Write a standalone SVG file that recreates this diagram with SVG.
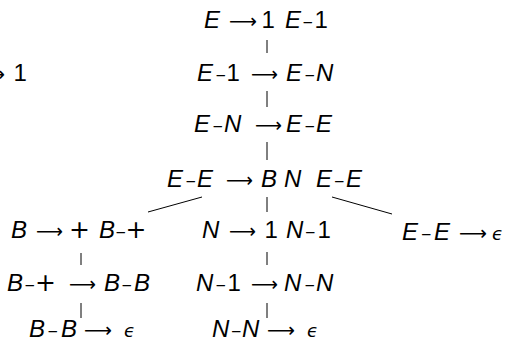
<svg xmlns="http://www.w3.org/2000/svg" width="508" height="348" viewBox="0 0 508 348">
  <style>
    text { font-family: "Liberation Sans", "DejaVu Sans", sans-serif; font-size: 24px; fill: #000; }
    .v { font-style: italic; }
    .op { font-family: "DejaVu Sans", sans-serif; font-size: 20px; }
    .d { font-family: "DejaVu Sans", sans-serif; font-size: 20px; }
    .p { font-family: "DejaVu Sans", sans-serif; font-size: 25px; }
    .eps { font-family: "DejaVu Sans", sans-serif; font-style: italic; font-size: 18px; }
    .edge { stroke: #000; stroke-width: 1; fill: none; }
  </style>
  <rect width="508" height="348" fill="#fff"/>

  <g id="connectors">
    <line class="edge" x1="267" y1="40" x2="267" y2="53"/>
    <line class="edge" x1="267" y1="91" x2="267" y2="107"/>
    <line class="edge" x1="267" y1="142" x2="267" y2="160"/>
    <line class="edge" x1="267" y1="197" x2="267" y2="212"/>
    <line class="edge" x1="202" y1="197" x2="148" y2="212"/>
    <line class="edge" x1="332" y1="197" x2="392" y2="214"/>
    <line class="edge" x1="81" y1="253" x2="81" y2="265"/>
    <line class="edge" x1="81" y1="303" x2="81" y2="318"/>
    <line class="edge" x1="267" y1="252" x2="267" y2="265"/>
    <line class="edge" x1="267" y1="303" x2="267" y2="318"/>
  </g>

  <g id="n-side">
    <text y="81"><tspan class="op" x="-22" textLength="27" lengthAdjust="spacingAndGlyphs">⟶</tspan><tspan x="13.5">1</tspan></text>
  </g>
  <g id="n-e">
    <text y="28"><tspan class="v" x="204">E</tspan><tspan class="op" x="229" textLength="28" lengthAdjust="spacingAndGlyphs">⟶</tspan><tspan x="261.5">1</tspan><tspan class="v" x="285">E</tspan><tspan class="d" x="302.5" textLength="10.5" lengthAdjust="spacingAndGlyphs">–</tspan><tspan x="314.5">1</tspan></text>
  </g>
  <g id="n-e1">
    <text y="81"><tspan class="v" x="197">E</tspan><tspan class="d" x="215.5" textLength="10.5" lengthAdjust="spacingAndGlyphs">–</tspan><tspan x="226.5">1</tspan><tspan class="op" x="251" textLength="27" lengthAdjust="spacingAndGlyphs">⟶</tspan><tspan class="v" x="286">E</tspan><tspan class="d" x="304.5" textLength="10.5" lengthAdjust="spacingAndGlyphs">–</tspan><tspan class="v" x="316">N</tspan></text>
  </g>
  <g id="n-en">
    <text y="132"><tspan class="v" x="194">E</tspan><tspan class="d" x="212.5" textLength="10.5" lengthAdjust="spacingAndGlyphs">–</tspan><tspan class="v" x="224">N</tspan><tspan class="op" x="255" textLength="27" lengthAdjust="spacingAndGlyphs">⟶</tspan><tspan class="v" x="286">E</tspan><tspan class="d" x="304.5" textLength="10.5" lengthAdjust="spacingAndGlyphs">–</tspan><tspan class="v" x="316">E</tspan></text>
  </g>
  <g id="n-ee">
    <text y="187"><tspan class="v" x="167">E</tspan><tspan class="d" x="185.5" textLength="10.5" lengthAdjust="spacingAndGlyphs">–</tspan><tspan class="v" x="197">E</tspan><tspan class="op" x="226" textLength="27" lengthAdjust="spacingAndGlyphs">⟶</tspan><tspan class="v" x="261">B</tspan><tspan class="v" x="284">N</tspan><tspan class="v" x="316">E</tspan><tspan class="d" x="334" textLength="10.5" lengthAdjust="spacingAndGlyphs">–</tspan><tspan class="v" x="346">E</tspan></text>
  </g>
  <g id="n-b">
    <text y="238"><tspan class="v" x="11">B</tspan><tspan class="op" x="36" textLength="27" lengthAdjust="spacingAndGlyphs">⟶</tspan><tspan class="p" x="69">+</tspan><tspan class="v" x="99">B</tspan><tspan class="d" x="115.5" textLength="10.5" lengthAdjust="spacingAndGlyphs">–</tspan><tspan class="p" x="125.5">+</tspan></text>
  </g>
  <g id="n-bplus">
    <text y="291"><tspan class="v" x="7">B</tspan><tspan class="d" x="24.5" textLength="10.5" lengthAdjust="spacingAndGlyphs">–</tspan><tspan class="p" x="35">+</tspan><tspan class="op" x="69" textLength="27" lengthAdjust="spacingAndGlyphs">⟶</tspan><tspan class="v" x="104">B</tspan><tspan class="d" x="121.5" textLength="10.5" lengthAdjust="spacingAndGlyphs">–</tspan><tspan class="v" x="134">B</tspan></text>
  </g>
  <g id="n-bb">
    <text y="337"><tspan class="v" x="29">B</tspan><tspan class="d" x="47.5" textLength="10.5" lengthAdjust="spacingAndGlyphs">–</tspan><tspan class="v" x="61">B</tspan><tspan class="op" x="84" textLength="28" lengthAdjust="spacingAndGlyphs">⟶</tspan><tspan class="eps" x="124">ϵ</tspan></text>
  </g>
  <g id="n-n">
    <text y="238"><tspan class="v" x="202">N</tspan><tspan class="op" x="229" textLength="27" lengthAdjust="spacingAndGlyphs">⟶</tspan><tspan x="264.5">1</tspan><tspan class="v" x="286">N</tspan><tspan class="d" x="305" textLength="10.5" lengthAdjust="spacingAndGlyphs">–</tspan><tspan x="317.5">1</tspan></text>
  </g>
  <g id="n-n1">
    <text y="291"><tspan class="v" x="196">N</tspan><tspan class="d" x="215.5" textLength="10.5" lengthAdjust="spacingAndGlyphs">–</tspan><tspan x="227.5">1</tspan><tspan class="op" x="251" textLength="27" lengthAdjust="spacingAndGlyphs">⟶</tspan><tspan class="v" x="284">N</tspan><tspan class="d" x="304.5" textLength="10.5" lengthAdjust="spacingAndGlyphs">–</tspan><tspan class="v" x="316">N</tspan></text>
  </g>
  <g id="n-nn">
    <text y="337"><tspan class="v" x="212">N</tspan><tspan class="d" x="231" textLength="10.5" lengthAdjust="spacingAndGlyphs">–</tspan><tspan class="v" x="242">N</tspan><tspan class="op" x="267" textLength="28" lengthAdjust="spacingAndGlyphs">⟶</tspan><tspan class="eps" x="307">ϵ</tspan></text>
  </g>
  <g id="n-eeps">
    <text y="240"><tspan class="v" x="402">E</tspan><tspan class="d" x="421" textLength="10.5" lengthAdjust="spacingAndGlyphs">–</tspan><tspan class="v" x="434">E</tspan><tspan class="op" x="459" textLength="28" lengthAdjust="spacingAndGlyphs">⟶</tspan><tspan class="eps" x="492">ϵ</tspan></text>
  </g>
</svg>
